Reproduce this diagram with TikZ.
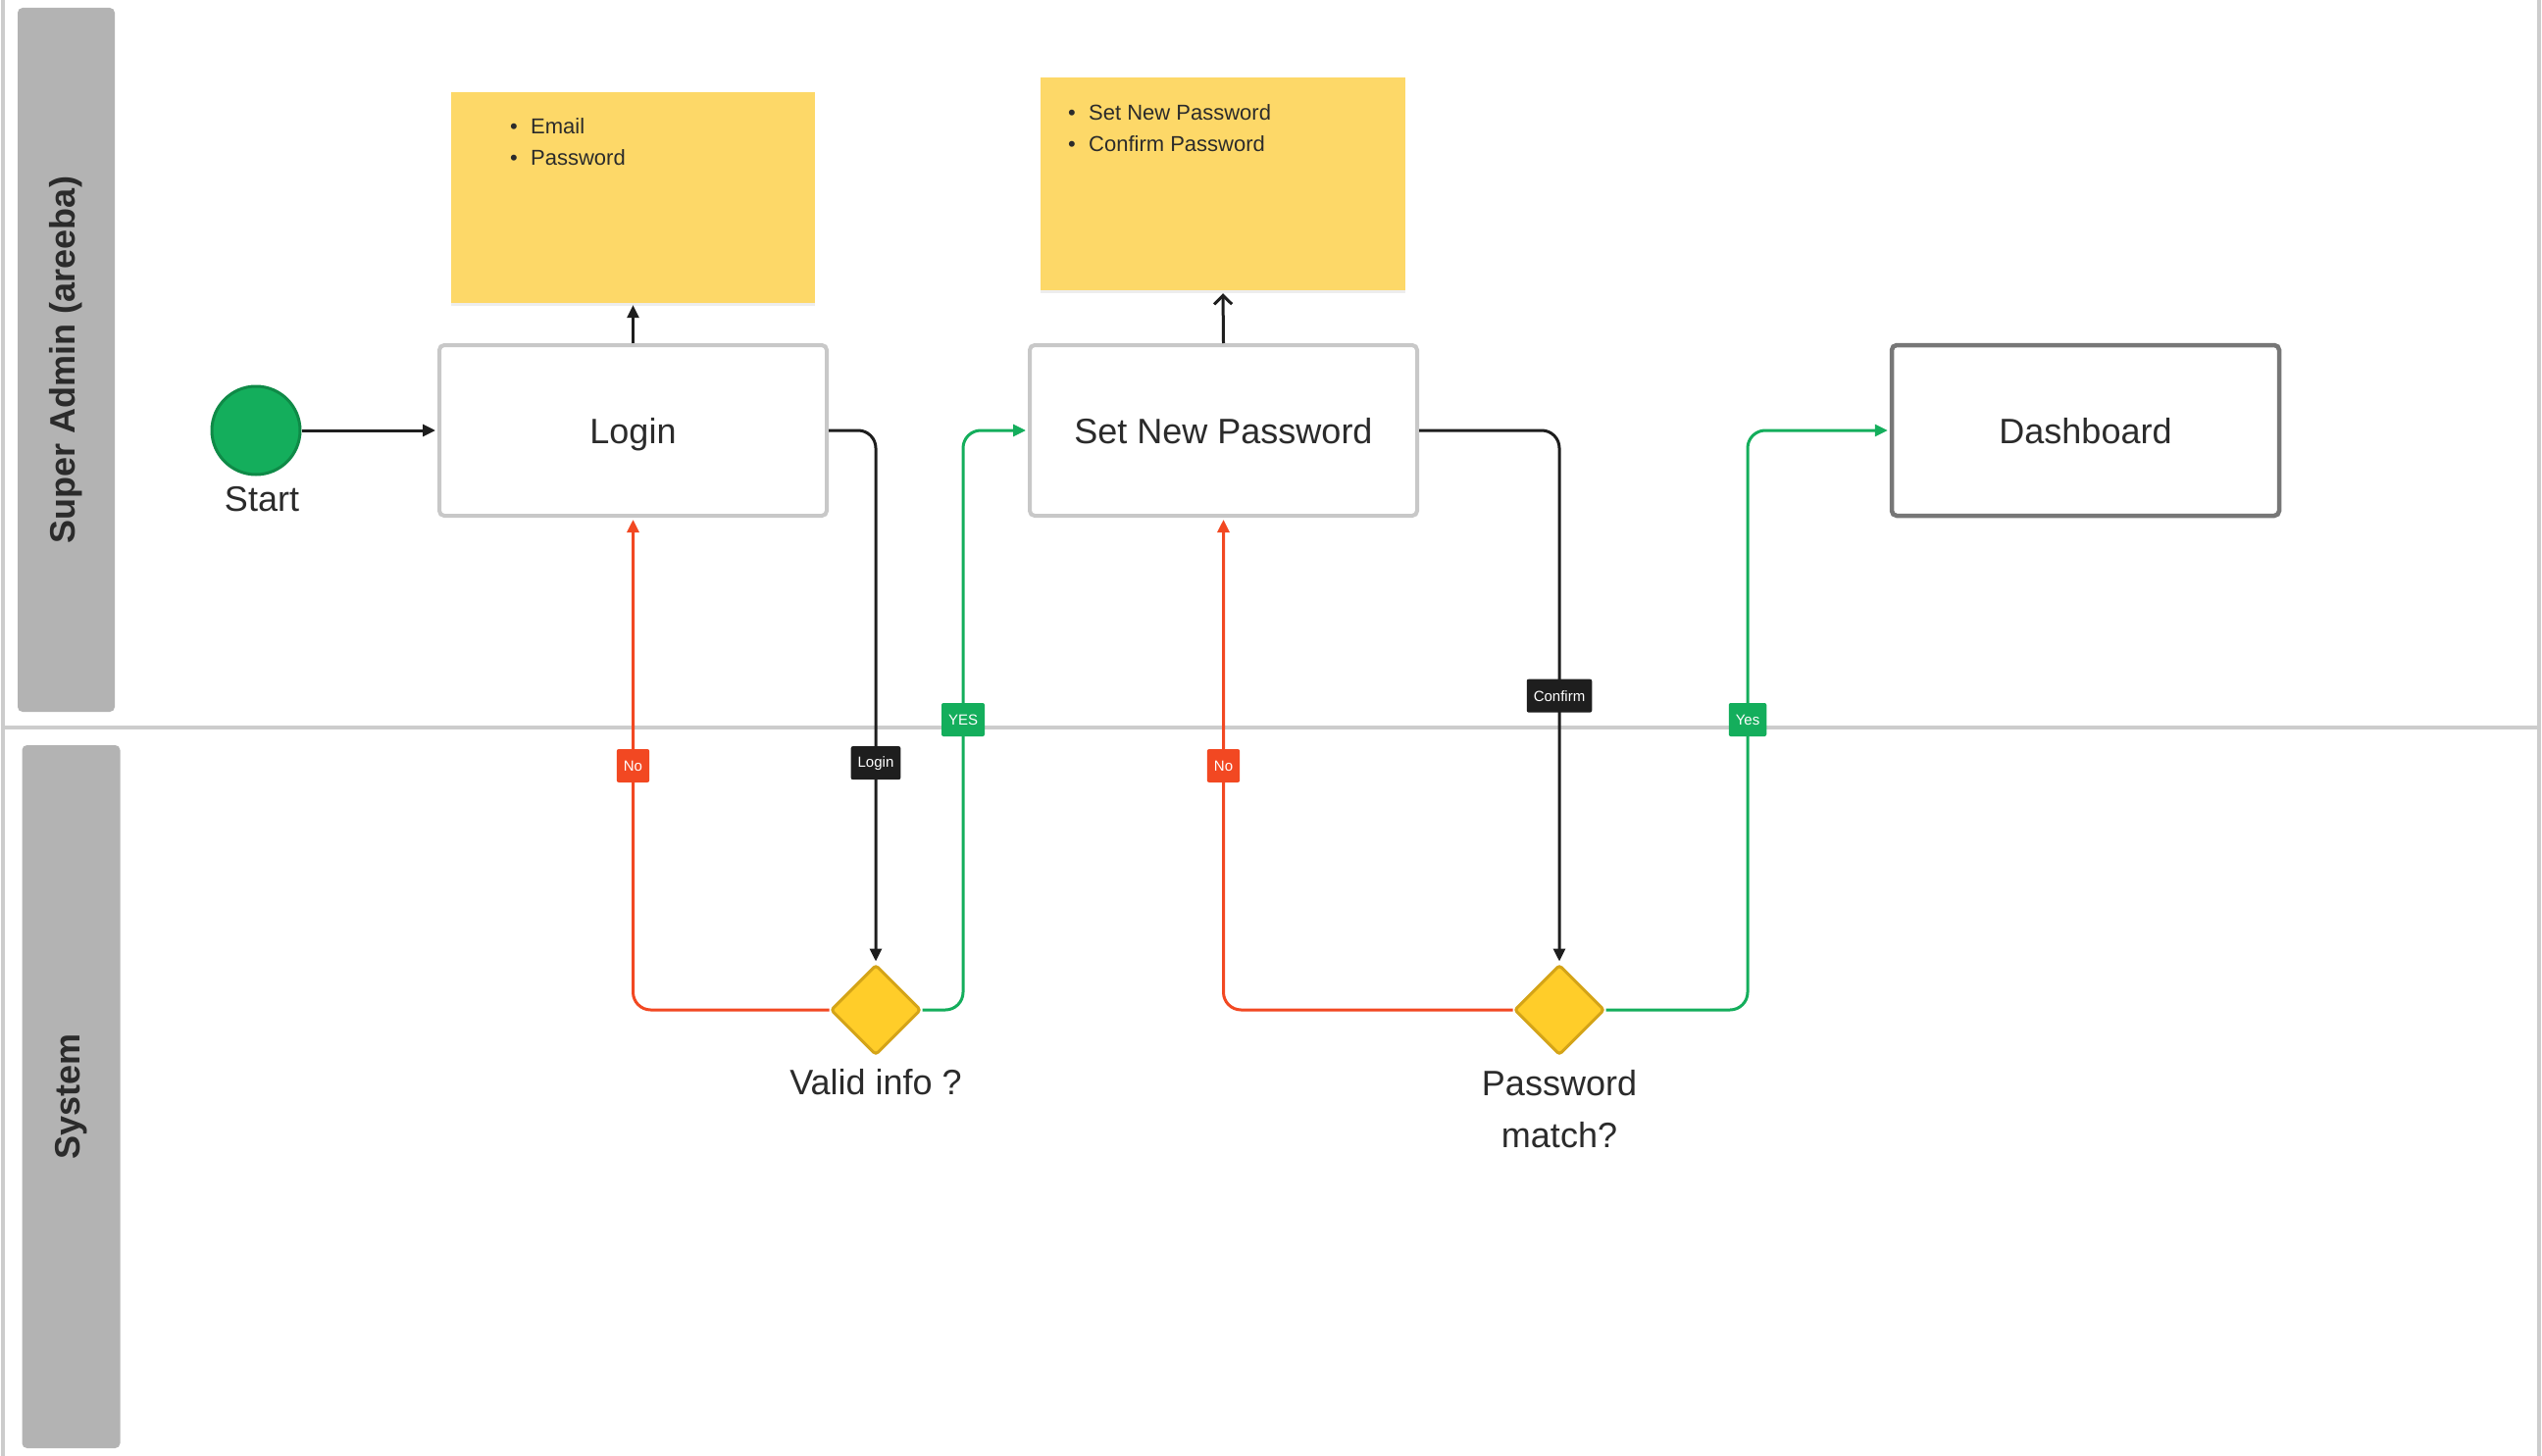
\documentclass[tikz,border=0pt]{standalone}
\usepackage{fontspec}
\setmainfont{Liberation Sans}
\usetikzlibrary{arrows.meta,shapes.geometric,shadows}
\definecolor{lanegray}{HTML}{B3B3B3}
\definecolor{framegray}{HTML}{CCCCCC}
\definecolor{boxgray}{HTML}{C8C8C8}
\definecolor{dashgray}{HTML}{777777}
\definecolor{notey}{HTML}{FDD868}
\definecolor{diafill}{HTML}{FFCD29}
\definecolor{diaedge}{HTML}{D4A418}
\definecolor{startg}{HTML}{14AE5C}
\definecolor{startedge}{HTML}{0F8A47}
\definecolor{greenc}{HTML}{14AE5C}
\definecolor{redc}{HTML}{F24822}
\definecolor{ink}{HTML}{1E1E1E}
\definecolor{txt}{HTML}{2B2B2B}
\newcommand\nbul{\makebox[21pt][l]{•}}
\begin{document}
\begin{tikzpicture}[x=1pt,y=-1pt,
  frameline/.style={draw=framegray,line width=4pt},
  lanehead/.style={fill=lanegray,rounded corners=5pt,text=txt,
    font=\fontsize{36}{43}\selectfont\bfseries,inner sep=0pt},
  box/.style={draw=boxgray,line width=4pt,rounded corners=5pt,fill=white,
    minimum width=395pt,minimum height=174pt,text=txt,
    text height=30pt,text depth=4pt,
    font=\fontsize{36}{43}\selectfont},
  note/.style={fill=notey,minimum width=371pt,minimum height=215pt,inner sep=0pt,
    drop shadow={shadow xshift=0pt,shadow yshift=-3pt,opacity=0.07,fill=black}},
  notetext/.style={inner sep=0pt,align=left,text=txt,
    font=\fontsize{22}{32}\selectfont},
  startnode/.style={circle,fill=startg,draw=startedge,line width=3pt,
    minimum size=90pt,inner sep=0pt},
  decision/.style={diamond,fill=diafill,draw=diaedge,line width=3pt,
    minimum width=92pt,minimum height=92pt,inner sep=0pt,rounded corners=3pt},
  lbl/.style={text=txt,font=\fontsize{36}{53}\selectfont,inner sep=0pt,align=center},
  badge/.style={text=white,rounded corners=2pt,inner xsep=7pt,inner ysep=0pt,
    minimum height=34pt,minimum width=33pt,font=\fontsize{15}{18}\selectfont},
  conn/.style={draw=ink,line width=3pt,rounded corners=18pt,
    -{Triangle[length=13pt,width=12pt]},shorten >=2pt},
  rconn/.style={conn,draw=redc},
  gconn/.style={conn,draw=greenc},
]
\useasboundingbox (0,0) rectangle (2592,1485);
\fill[white] (0,0) rectangle (2592,1485);

% lanes
\draw[frameline] (3,0) -- (3,1485);
\draw[frameline] (2589,0) -- (2589,1485);
\draw[frameline] (3,742) -- (2589,742);
\node[lanehead,rotate=90,minimum width=718pt,minimum height=99pt] (lane1) at (67.5,367) {Super Admin (areeba)};
\node[lanehead,rotate=90,minimum width=717pt,minimum height=100pt] (lane2) at (72.5,1118.5) {System};

% notes
\node[note] (n1) at (645.5,201.5) {};
\node[notetext,anchor=west] (n1t) at (520,144.5) {\nbul Email\\\nbul Password};
\node[note,minimum width=372pt,minimum height=217pt] (n2) at (1247,187.5) {};
\node[notetext,anchor=west] (n2t) at (1089,130.5) {\nbul Set New Password\\\nbul Confirm Password};

% main nodes
\node[startnode] (start) at (261,439) {};
\node[lbl] (startl) at (267,509) {Start};
\node[box] (login) at (645.5,439) {Login};
\node[box] (snp) at (1247.5,439) {Set New Password};
\node[box,draw=dashgray,line width=4.5pt] (dash) at (2126.5,439) {Dashboard};
\node[decision] (d1) at (893,1030) {};
\node[lbl] (d1l) at (893,1104) {Valid info ?};
\node[decision] (d2) at (1590,1030) {};
\node[lbl] (d2l) at (1590,1131) {Password\\match?};

\coordinate (gy1) at (982,734);
\coordinate (gy2) at (1782,734);

% connectors
\draw[conn] (start) -- (login.west);
\draw[conn] (login.north) -- (n1.south);
\draw[draw=ink,line width=3pt,-{Straight Barb[length=9pt,width=18pt]},shorten >=3pt] (snp.north) -- (n2.south);

\draw[conn] (login.east) -| node[badge,fill=ink,pos=0.812] (bl1) {Login} (d1.north);
\draw[rconn] (d1.west) -| node[badge,fill=redc,pos=0.748] (bn1) {No} (login.south);
\draw[gconn] (d1.east) -| (gy1) |- (snp.west);
\node[badge,fill=greenc] (by1) at (gy1) {YES};

\draw[conn] (snp.east) -| node[badge,fill=ink,pos=0.749] (bc1) {Confirm} (d2.north);
\draw[rconn] (d2.west) -| node[badge,fill=redc,pos=0.748] (bn2) {No} (snp.south);
\draw[gconn] (d2.east) -| (gy2) |- (dash.west);
\node[badge,fill=greenc] (by2) at (gy2) {Yes};
\end{tikzpicture}
\end{document}
